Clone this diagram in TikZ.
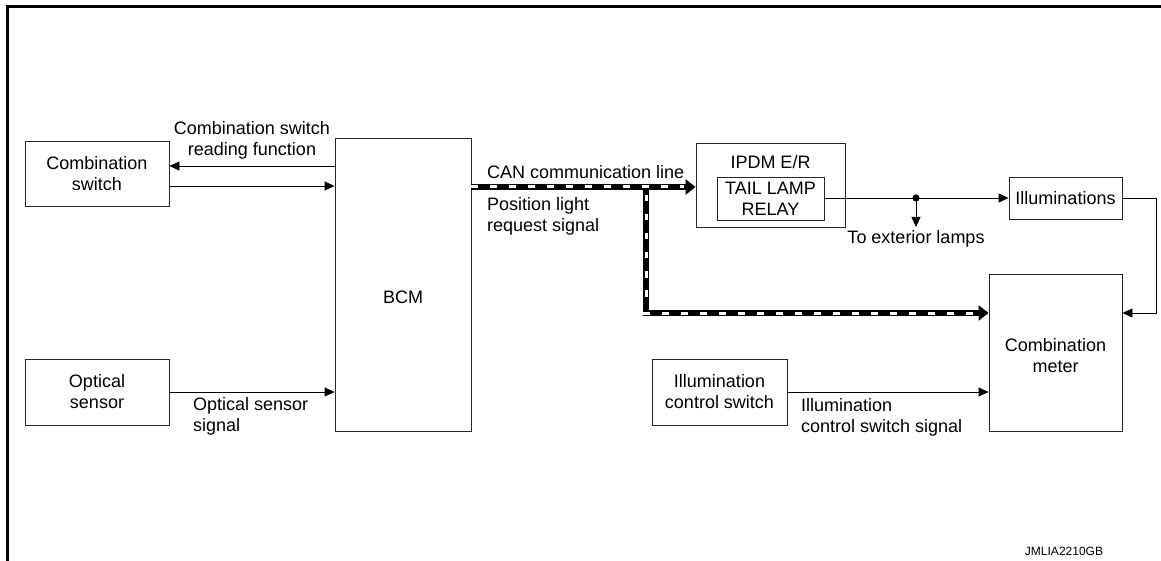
\documentclass[tikz,border=0pt]{standalone}
\usepackage{fontspec}
\setmainfont{Liberation Sans}
\usetikzlibrary{arrows.meta,calc}
\begin{document}
\begin{tikzpicture}[x=1pt,y=-1pt,
  font=\fontsize{18}{21}\selectfont,
  box/.style={draw=black!85, line width=0.9pt, inner sep=0pt, align=center},
  lbl/.style={inner sep=0pt},
  arr/.style={line width=0.9pt, -{Triangle[length=10pt,width=9pt]}},
  canblack/.style={line width=6.5pt, black},
  canwhite/.style={line width=3pt, white, dash pattern=on 6.5pt off 12.5pt}
]
\useasboundingbox (0,0) rectangle (1161,561);
% frame
\draw[line width=2.8pt] (7.3,561) |- (1161,6.3);

% boxes
\node[box, minimum width=144pt, minimum height=65pt] (cs) at (97,173.5) {Combination\\switch};
\node[box, minimum width=136pt, minimum height=293pt] (bcm) at (403,284.5) {};
\node at (403,297) {BCM};
\node[box, minimum width=144pt, minimum height=66pt] (os) at (97,392) {Optical\\sensor};
\node[box, minimum width=149pt, minimum height=84pt] (ipdm) at (770.5,185) {};
\node[lbl] (ipdmt) at (770.5,162) {IPDM E/R};
\node[box, minimum width=107pt, minimum height=43pt] (relay) at (770.5,198.5) {TAIL LAMP\\RELAY};
\node[box, minimum width=113pt, minimum height=42pt] (illum) at (1065.5,198) {Illuminations};
\node[box, minimum width=133pt, minimum height=157pt] (meter) at (1055.5,352.5) {};
\node[lbl, align=center] at (1055.5,355.5) {Combination\\meter};
\node[box, minimum width=135pt, minimum height=66pt] (ics) at (719.5,392) {Illumination\\control switch};

% combination switch connectors
\draw[arr] (bcm.west |- 0,166) -- (cs.east |- 0,166);
\draw[arr] (cs.east |- 0,186) -- (bcm.west |- 0,186);
\node[lbl, align=center] at (252,140.5) {Combination switch\\reading function};

% optical sensor
\draw[arr] (os.east |- 0,392) -- (bcm.west |- 0,392);
\node[lbl, align=left, anchor=west] at (193,416) {Optical sensor\\signal};

% CAN line
\draw[canblack, -{Triangle[length=10pt,width=15pt]}] (bcm.east |- 0,187) -- (ipdm.west |- 0,187);
\draw[canblack, -{Triangle[length=10pt,width=15pt]}] (646,187) |- (meter.west |- 0,313);
\draw[canwhite] (bcm.east |- 0,187) -- (684,187);
\draw[canwhite] (646,195) -- (646,306);
\draw[canwhite] (643,313) -- (977,313);
\node[lbl, anchor=west] at (487,172) {CAN communication line};
\node[lbl, align=left, anchor=west] at (487,216.5) {Position light\\request signal};

% relay to illuminations
\coordinate (dot) at (916,198);
\draw[arr] (relay.east |- 0,198) -- (illum.west |- 0,198);
\fill (dot) circle (3.6pt);
\draw[arr] (dot) -- (916,227);
\node[lbl] at (916,238.5) {To exterior lamps};

% illuminations to meter
\draw[arr] (illum.east) -- (1156,198) |- (meter.east |- 0,313);

% illumination control switch
\draw[arr] (ics.east |- 0,392) -- (meter.west |- 0,392);
\node[lbl, align=left, anchor=west] at (801,417) {Illumination\\control switch signal};

\node[lbl, font=\fontsize{12}{14}\selectfont] at (1064,551) {JMLIA2210GB};
\end{tikzpicture}
\end{document}
